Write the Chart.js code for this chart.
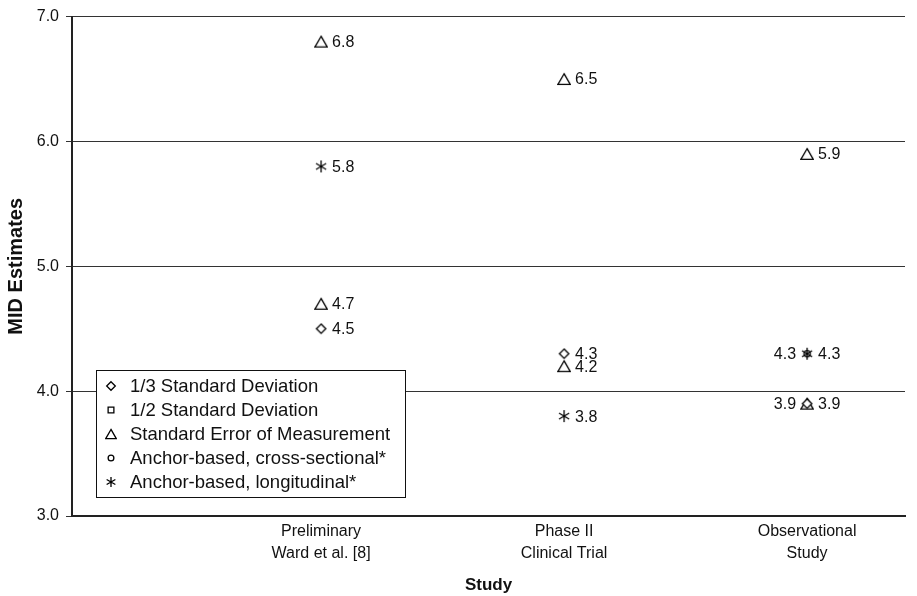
<!DOCTYPE html>
<html>
<head>
<meta charset="utf-8">
<script src="https://cdn.jsdelivr.net/npm/chart.js@4/dist/chart.umd.min.js"></script>
<style>
  html, body { margin: 0; padding: 0; background: #fff; }
  #wrap { width: 917px; height: 596px; }
</style>
</head>
<body>
<div id="wrap"><canvas id="c" width="917" height="596"></canvas></div>
<script>
// Studies along the x axis
const studies = [
  ['Preliminary', 'Ward et al. [8]'],
  ['Phase II', 'Clinical Trial'],
  ['Observational', 'Study']
];
const studyPos = [1, 2, 3];

// MID estimates per method (null = not estimated in that study)
const thirdSD        = [4.5, 4.3, 3.9];
const halfSD         = [6.8, 6.5, 5.9];
const semEstimate    = [4.7, 4.2, 3.9];
const anchorCross    = [null, null, 4.3];
const anchorLong     = [5.8, 3.8, 4.3];

const seriesNames = [
  '1/3 Standard Deviation',
  '1/2 Standard Deviation',
  'Standard Error of Measurement',
  'Anchor-based, cross-sectional*',
  'Anchor-based, longitudinal*'
];

const yTicks = [3, 4, 5, 6, 7];

const FONT = '"Liberation Sans", Arial, Helvetica, sans-serif';
const INK = '#111';

// small hand-drawn marker glyphs
function makeMarker(kind, size) {
  const c = document.createElement('canvas');
  const s = size;
  c.width = s; c.height = s;
  const g = c.getContext('2d');
  g.strokeStyle = '#000';
  g.lineWidth = 1.3;
  g.fillStyle = '#fff';
  const m = s / 2;
  g.beginPath();
  if (kind === 'diamond') {
    const r = s * 0.36;
    g.moveTo(m, m - r); g.lineTo(m + r, m); g.lineTo(m, m + r); g.lineTo(m - r, m); g.closePath();
    g.fill(); g.stroke();
  } else if (kind === 'square') {
    const r = s * 0.24;
    g.rect(m - r, m - r, 2 * r, 2 * r);
    g.fill(); g.stroke();
  } else if (kind === 'triangle') {
    const w = s * 0.44, h = s * 0.38;
    g.moveTo(m, m - h); g.lineTo(m + w, m + h); g.lineTo(m - w, m + h); g.closePath();
    g.stroke();
  } else if (kind === 'circle') {
    g.arc(m, m, s * 0.24, 0, Math.PI * 2);
    g.stroke();
  } else if (kind === 'asterisk') {
    const r = s * 0.42;
    for (let k = 0; k < 3; k++) {
      const a = Math.PI / 2 + k * Math.PI / 3;
      g.moveTo(m + r * Math.cos(a), m + r * Math.sin(a));
      g.lineTo(m - r * Math.cos(a), m - r * Math.sin(a));
    }
    g.stroke();
  }
  return c;
}

const plotMarkers = {
  diamond: makeMarker('diamond', 13),
  triangle: makeMarker('triangle', 14),
  circle: makeMarker('circle', 13),
  asterisk: makeMarker('asterisk', 14),
  square: makeMarker('square', 13)
};

const seriesValues = [thirdSD, halfSD, semEstimate, anchorCross, anchorLong];
const plotStyle = ['diamond', 'triangle', 'triangle', 'circle', 'asterisk'];
const legendStyle = ['diamond', 'square', 'triangle', 'circle', 'asterisk'];

const datasets = seriesValues.map((vals, i) => ({
  label: seriesNames[i],
  data: vals.map((v, j) => v === null ? null : { x: studyPos[j], y: v }).filter(p => p),
  pointStyle: plotMarkers[plotStyle[i]],
  pointRadius: 7,
  pointHoverRadius: 7,
  showLine: false
}));

// value labels next to each point; a point sharing its spot with an earlier one is labelled on the left
const valueLabels = {
  id: 'valueLabels',
  afterDatasetsDraw(chart) {
    const ctx = chart.ctx;
    ctx.save();
    ctx.font = '16px ' + FONT;
    ctx.fillStyle = INK;
    ctx.textBaseline = 'middle';
    const xs = chart.scales.x, ys = chart.scales.y;
    seriesValues.forEach((vals, i) => {
      vals.forEach((v, j) => {
        if (v === null) return;
        const px = xs.getPixelForValue(studyPos[j]);
        const py = ys.getPixelForValue(v);
        let shared = false;
        for (let k = 0; k < i; k++) if (seriesValues[k][j] === v) shared = true;
        if (shared) {
          ctx.textAlign = 'right';
          ctx.fillText(v.toFixed(1), px - 11, py + 1);
        } else {
          ctx.textAlign = 'left';
          ctx.fillText(v.toFixed(1), px + 11, py + 1);
        }
      });
    });
    ctx.restore();
  }
};

// boxed legend inside the plot
const boxedLegend = {
  id: 'boxedLegend',
  afterDraw(chart) {
    const ctx = chart.ctx;
    const a = chart.chartArea;
    const bx = a.left + 24, by = a.bottom - 146, bw = 309, bh = 127;
    ctx.save();
    ctx.fillStyle = '#fff';
    ctx.fillRect(bx, by, bw, bh);
    ctx.strokeStyle = INK;
    ctx.lineWidth = 1;
    ctx.strokeRect(bx + 0.5, by + 0.5, bw, bh);
    ctx.font = '18.5px ' + FONT;
    ctx.fillStyle = INK;
    ctx.textBaseline = 'middle';
    ctx.textAlign = 'left';
    seriesNames.forEach((name, i) => {
      const cy = by + 16 + i * 24;
      const mk = makeMarker(legendStyle[i], 12);
      ctx.drawImage(mk, bx + 9, cy - 6);
      ctx.fillText(name, bx + 34, cy + 1);
    });
    ctx.restore();
  }
};

new Chart(document.getElementById('c'), {
  type: 'scatter',
  data: { datasets },
  options: {
    responsive: false,
    animation: false,
    layout: { padding: { top: 16, right: 12, left: 0, bottom: 0 } },
    plugins: {
      legend: { display: false },
      tooltip: { enabled: false }
    },
    scales: {
      x: {
        type: 'linear',
        min: -0.025,
        max: 3.403,
        afterBuildTicks(scale) { scale.ticks = studyPos.map(v => ({ value: v })); },
        afterFit(scale) { scale.height = 80; },
        ticks: {
          autoSkip: false,
          maxRotation: 0,
          padding: 5,
          color: INK,
          font: { family: FONT, size: 16, lineHeight: 1.35 },
          callback: (v) => studies[studyPos.indexOf(v)] || ''
        },
        grid: { display: false, drawTicks: false },
        border: { display: true, color: '#222', width: 2 },
        title: {
          display: true,
          text: 'Study',
          color: INK,
          font: { family: FONT, size: 17, weight: 'bold', lineHeight: 1.2 },
          padding: { top: 1, bottom: 0 }
        }
      },
      y: {
        min: 3,
        max: 7,
        afterBuildTicks(scale) { scale.ticks = yTicks.map(v => ({ value: v })); },
        afterFit(scale) { scale.width = 72; },
        ticks: {
          padding: 7,
          color: INK,
          font: { family: FONT, size: 16 },
          callback: (v) => Number(v).toFixed(1)
        },
        grid: { color: '#333', lineWidth: 1, tickLength: 6, tickColor: '#333' },
        border: { display: true, color: '#222', width: 2 },
        title: {
          display: true,
          text: 'MID Estimates',
          color: INK,
          font: { family: FONT, size: 20, weight: 'bold', lineHeight: 1.2 },
          padding: { top: 4, bottom: 0 }
        }
      }
    }
  },
  plugins: [valueLabels, boxedLegend]
});
</script>
</body>
</html>
